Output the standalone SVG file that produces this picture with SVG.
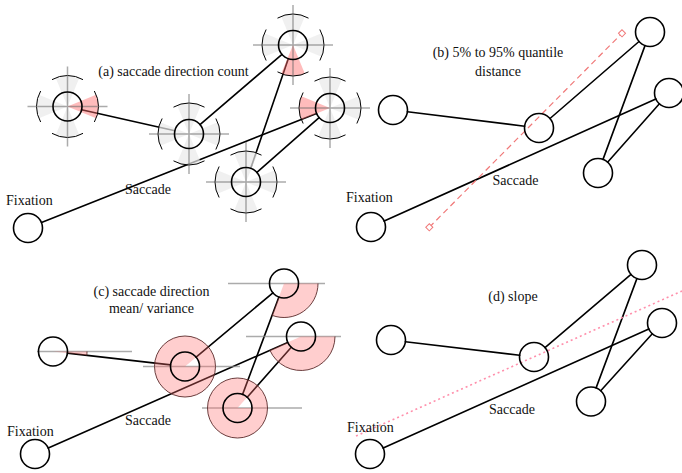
<svg xmlns="http://www.w3.org/2000/svg" xmlns:xlink="http://www.w3.org/1999/xlink" width="682" height="473" viewBox="0 0 682 473">
  <style>
    text { font-family: "Liberation Serif", "Times New Roman", serif; font-size: 14px; fill: #111; }
    .ttl { text-anchor: middle; }
    .ln { stroke: #000; stroke-width: 1.6; fill: none; stroke-linecap: round; }
    .node { fill: none; stroke: #000; stroke-width: 1.6; }
    .gw { fill: #e9e9e9; fill-opacity: 0.7; }
    .rw { fill: #ff6b6b; fill-opacity: 0.45; }
    .cross { stroke: #666; stroke-opacity: 0.55; stroke-width: 1.5; fill: none; }
    .arc { stroke: #000; stroke-width: 1; fill: none; }
    .ref { stroke: #888; stroke-opacity: 0.7; stroke-width: 1.5; }
    .pk { fill: #ff7070; fill-opacity: 0.34; fill-rule: evenodd; }
    .rim { fill: none; stroke: #5a2a2a; stroke-width: 0.9; }
    .quant { stroke: #f07878; stroke-width: 1.2; stroke-dasharray: 6 4; fill: none; }
    .slope { stroke: #ff8fab; stroke-width: 1.6; stroke-dasharray: 2 3; fill: none; }
  </style>
  <defs>
    <!-- direction bins of the count glyph -->
    <path id="wE" d="M0,0 L28.64,-11.86 A31,31 0 0 1 28.64,11.86 Z"/>
    <path id="wS" d="M0,0 L11.86,28.64 A31,31 0 0 1 -11.86,28.64 Z"/>
    <path id="wW" d="M0,0 L-28.64,11.86 A31,31 0 0 1 -28.64,-11.86 Z"/>
    <path id="wN" d="M0,0 L-11.86,-28.64 A31,31 0 0 1 11.86,-28.64 Z"/>
    <g id="dial">
      <path class="arc" d="M26.85,-15.5 A31,31 0 0 1 26.85,15.5 M15.5,26.85 A31,31 0 0 1 -15.5,26.85 M-26.85,15.5 A31,31 0 0 1 -26.85,-15.5 M-15.5,-26.85 A31,31 0 0 1 15.5,-26.85"/>
      <path class="cross" d="M-40,0 H40 M0,-40 V40"/>
    </g>
    <marker id="qend" viewBox="-4 -4 8 8" markerWidth="8" markerHeight="8" markerUnits="userSpaceOnUse" orient="auto">
      <rect x="-2.5" y="-2.5" width="5" height="5" fill="#fff" stroke="#f07878" stroke-width="1"/>
    </marker>
  </defs>

  <!-- connectors -->
  <g id="connectors">
    <g id="sacc-a">
      <line class="ln" x1="81.6" y1="109.7" x2="174.9" y2="130.8"/>
      <line class="ln" x1="200.0" y1="124.6" x2="282.0" y2="54.4"/>
      <line class="ln" x1="288.3" y1="58.7" x2="250.7" y2="168.3"/>
      <line class="ln" x1="256.9" y1="172.4" x2="319.1" y2="117.6"/>
      <line class="ln" x1="316.5" y1="113.4" x2="41.5" y2="222.6"/>
    </g>
    <g id="sacc-b">
      <line class="ln" x1="407.4" y1="111.8" x2="524.6" y2="126.2"/>
      <line class="ln" x1="550.0" y1="118.5" x2="639.0" y2="41.5"/>
      <line class="ln" x1="645.0" y1="45.6" x2="603.0" y2="159.4"/>
      <line class="ln" x1="607.6" y1="162.2" x2="659.4" y2="103.8"/>
      <line class="ln" x1="655.8" y1="98.9" x2="384.2" y2="221.1"/>
    </g>
    <g id="sacc-c">
      <line class="ln" x1="67.4" y1="353.1" x2="170.6" y2="364.9"/>
      <line class="ln" x1="196.1" y1="357.2" x2="272.9" y2="292.8"/>
      <line class="ln" x1="278.9" y1="297.1" x2="242.6" y2="394.4"/>
      <line class="ln" x1="247.2" y1="397.2" x2="291.3" y2="347.3"/>
      <line class="ln" x1="287.7" y1="342.4" x2="48.3" y2="448.1"/>
    </g>
    <g id="sacc-d">
      <line class="ln" x1="405.4" y1="341.7" x2="519.6" y2="355.3"/>
      <line class="ln" x1="545.0" y1="347.6" x2="631.0" y2="274.4"/>
      <line class="ln" x1="636.9" y1="278.6" x2="596.1" y2="387.9"/>
      <line class="ln" x1="600.7" y1="390.7" x2="652.3" y2="333.8"/>
      <line class="ln" x1="648.8" y1="328.9" x2="383.2" y2="448.1"/>
    </g>
  </g>

  <!-- (a) saccade direction count -->
  <g id="panel-a">
    <g id="a-fix0"><circle class="node" cx="28" cy="228" r="14.5"/></g>
    <g id="a-fix1" transform="translate(67.5,106.5)">
      <use xlink:href="#wN" class="gw"/><use xlink:href="#wS" class="gw"/><use xlink:href="#wW" class="gw"/><use xlink:href="#wE" class="rw"/>
      <use xlink:href="#dial"/><circle class="node" r="14.5"/>
    </g>
    <g id="a-fix2" transform="translate(189,134)">
      <use xlink:href="#wN" class="gw"/><use xlink:href="#wS" class="gw"/><use xlink:href="#wW" class="gw"/><use xlink:href="#wE" class="gw"/>
      <use xlink:href="#dial"/><circle class="node" r="14.5"/>
    </g>
    <g id="a-fix3" transform="translate(293,45)">
      <use xlink:href="#wN" class="gw"/><use xlink:href="#wE" class="gw"/><use xlink:href="#wW" class="gw"/><use xlink:href="#wS" class="rw"/>
      <use xlink:href="#dial"/><circle class="node" r="14.5"/>
    </g>
    <g id="a-fix4" transform="translate(330,108)">
      <use xlink:href="#wN" class="gw"/><use xlink:href="#wE" class="gw"/><use xlink:href="#wS" class="gw"/><use xlink:href="#wW" class="rw"/>
      <use xlink:href="#dial"/><circle class="node" r="14.5"/>
    </g>
    <g id="a-fix5" transform="translate(246,182)">
      <use xlink:href="#wN" class="gw"/><use xlink:href="#wS" class="gw"/><use xlink:href="#wW" class="gw"/><use xlink:href="#wE" class="gw"/>
      <use xlink:href="#dial"/><circle class="node" r="14.5"/>
    </g>
    <text class="ttl" x="173.5" y="76">(a) saccade direction count</text>
    <text x="6" y="205">Fixation</text>
    <text x="125" y="194">Saccade</text>
  </g>

  <!-- (b) 5% to 95% quantile distance -->
  <g id="panel-b">
    <line id="b-quantile" class="quant" x1="429.3" y1="227.3" x2="622" y2="33.3" marker-start="url(#qend)" marker-end="url(#qend)"/>
    <g id="b-fix0"><circle class="node" cx="371" cy="227" r="14.5"/></g>
    <g id="b-fix1"><circle class="node" cx="393" cy="110" r="14.5"/></g>
    <g id="b-fix2"><circle class="node" cx="539" cy="128" r="14.5"/></g>
    <g id="b-fix3"><circle class="node" cx="650" cy="32" r="14.5"/></g>
    <g id="b-fix4"><circle class="node" cx="669" cy="93" r="14.5"/></g>
    <g id="b-fix5"><circle class="node" cx="598" cy="173" r="14.5"/></g>
    <text class="ttl" x="498" y="57">(b) 5% to 95% quantile</text>
    <text class="ttl" x="498" y="76">distance</text>
    <text x="346" y="201.5">Fixation</text>
    <text x="492.5" y="185">Saccade</text>
  </g>

  <!-- (c) saccade direction mean / variance -->
  <g id="panel-c">
    <g id="c-fix0"><circle class="node" cx="35" cy="454" r="14.5"/></g>
    <g id="c-fix1">
      <line class="ref" x1="37" y1="351.5" x2="132" y2="351.5"/>
      <path class="pk" d="M53,351.5 L87,351.5 A34,34 0 0 1 86.8,355.3 Z"/>
      <path class="rim" d="M87,351.5 A34,34 0 0 1 86.8,355.3"/>
      <circle class="node" cx="53" cy="351.5" r="14.5"/>
    </g>
    <g id="c-fix2">
      <line class="ref" x1="143" y1="366.5" x2="240" y2="366.5"/>
      <path class="pk" d="M154.5,366.5 A30.5,30.5 0 1 0 215.5,366.5 A30.5,30.5 0 1 0 154.5,366.5 Z M185,366.5 L199.5,366.5 A14.5,14.5 0 0 0 196.11,357.18 Z"/>
      <circle class="rim" cx="185" cy="366.5" r="30.5"/>
      <circle class="node" cx="185" cy="366.5" r="14.5"/>
    </g>
    <g id="c-fix3">
      <line class="ref" x1="228" y1="283.5" x2="325" y2="283.5"/>
      <path class="pk" d="M284,283.5 L318,283.5 A34,34 0 0 1 272.04,315.33 Z"/>
      <path class="rim" d="M318,283.5 A34,34 0 0 1 272.04,315.33"/>
      <circle class="node" cx="284" cy="283.5" r="14.5"/>
    </g>
    <g id="c-fix4">
      <line class="ref" x1="246" y1="336.5" x2="341" y2="336.5"/>
      <path class="pk" d="M301,336.5 L335,336.5 A34,34 0 0 1 269.89,350.22 Z"/>
      <path class="rim" d="M335,336.5 A34,34 0 0 1 269.89,350.22"/>
      <circle class="node" cx="301" cy="336.5" r="14.5"/>
    </g>
    <g id="c-fix5">
      <line class="ref" x1="202" y1="408" x2="302" y2="408"/>
      <path class="pk" d="M207.5,408 A30,30 0 1 0 267.5,408 A30,30 0 1 0 207.5,408 Z M237.5,408 L252,408 A14.5,14.5 0 0 0 247.16,397.19 Z"/>
      <circle class="rim" cx="237.5" cy="408" r="30"/>
      <circle class="node" cx="237.5" cy="408" r="14.5"/>
    </g>
    <text class="ttl" x="151.5" y="296">(c) saccade direction</text>
    <text class="ttl" x="151.5" y="312.5">mean/ variance</text>
    <text x="7" y="436">Fixation</text>
    <text x="125" y="425">Saccade</text>
  </g>

  <!-- (d) slope -->
  <g id="panel-d">
    <line id="d-slope" class="slope" x1="356" y1="436" x2="682" y2="291"/>
    <g id="d-fix0"><circle class="node" cx="370" cy="454" r="14.5"/></g>
    <g id="d-fix1"><circle class="node" cx="391" cy="340" r="14.5"/></g>
    <g id="d-fix2"><circle class="node" cx="534" cy="357" r="14.5"/></g>
    <g id="d-fix3"><circle class="node" cx="642" cy="265" r="14.5"/></g>
    <g id="d-fix4"><circle class="node" cx="662" cy="323" r="14.5"/></g>
    <g id="d-fix5"><circle class="node" cx="591" cy="401.5" r="14.5"/></g>
    <text class="ttl" x="513" y="300.5">(d) slope</text>
    <text x="347" y="431.5">Fixation</text>
    <text x="489" y="413.5">Saccade</text>
  </g>
</svg>
